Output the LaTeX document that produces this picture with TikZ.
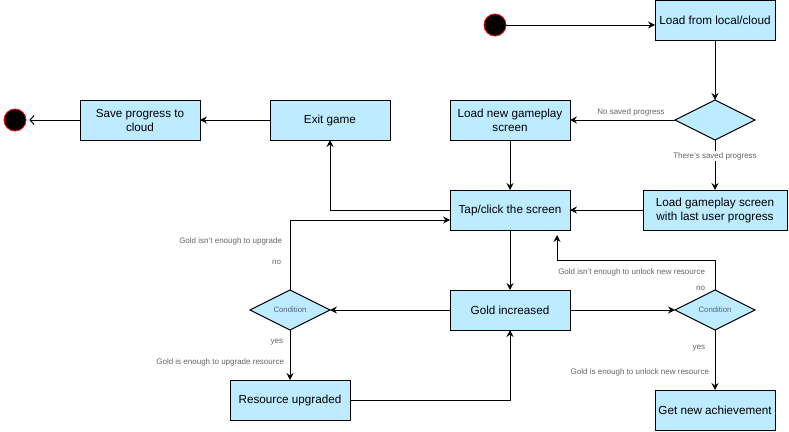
\documentclass[tikz,border=0pt]{standalone}
\usepackage{fontspec}
\setmainfont{Liberation Sans}
\usetikzlibrary{shapes.geometric,arrows.meta}
\definecolor{boxfill}{RGB}{189,235,255}
\definecolor{lblgray}{RGB}{100,100,100}
\definecolor{condtext}{RGB}{85,100,115}
\begin{document}
	\begin{tikzpicture}[x=1pt,y=-1pt,
			box/.style={draw,fill=boxfill,line width=1pt,minimum width=120,minimum height=40,inner sep=0pt,outer sep=0pt,align=center,font=\fontsize{11.7}{14}\selectfont},
			cond/.style={diamond,draw,fill=boxfill,line width=1pt,minimum width=80,minimum height=40,inner sep=0pt,outer sep=0pt,text=condtext,font=\fontsize{7.8}{9}\selectfont},
			dot/.style={circle,fill=black,draw=red,line width=.8pt,minimum size=22,inner sep=0pt},
			lbl/.style={text=lblgray,inner sep=1.5pt,font=\fontsize{8}{10}\selectfont},
			flow/.style={line width=1pt,-{Stealth[length=7pt,width=7pt,inset=2.5pt]}}
		]
		\useasboundingbox (0,0) rectangle (789,431);
		\node[dot](start) at(495,25){};
		\node[box](load) at(715,20){Load from local/cloud};
		\node[cond](dec) at(715,120){};
		\node[box](new) at(510,120){Load new gameplay\\screen};
		\node[box,minimum width=144](last) at(715,210){Load gameplay screen\\with last user progress};
		\node[box](tap) at(510,210){Tap/click the screen};
		\node[box](exit) at(330,120){Exit game};
		\node[box](save) at(140,120){Save progress to\\cloud};
		\node[dot](stop) at(15,120){};
		\node[box](gold) at(510,310){Gold increased};
		\node[cond](condA) at(290,310){Condition};
		\node[cond](condB) at(715,310){Condition};
		\node[box](res) at(290,400){Resource upgraded};
		\node[box](ach) at(715,410){Get new achievement};
		\draw[flow] (start) -- (start -| load.west);
		\draw[flow] (load) -- (dec);
		\draw[flow] (dec) -- node[lbl,above=2pt,pos=.42]{No saved progress} (new);
		\draw[flow] (dec) -- node[lbl,fill=white,pos=.32]{There's saved progress} (last);
		\draw[flow] (new) -- (tap);
		\draw[flow] (last) -- (tap);
		\draw[flow] (tap.west) -| (exit);
		\draw[flow] (exit) -- (save);
		\draw[line width=1pt,-{Straight Barb[length=4pt,width=9pt]},shorten >=3pt] (save) -- (stop);
		\draw[flow] (tap) -- (gold);
		\draw[flow] (gold) -- (condA);
		\draw[flow] (gold) -- (condB);
		\draw[flow] (condA) -- node[lbl,left=5pt,pos=.24]{yes}
			node[lbl,left=4pt,pos=.64]{Gold is enough to upgrade resource} (res);
		\draw[flow] (condA.north) -- node[lbl,left=7pt,pos=.39]{no}
			node[lbl,left=6pt,pos=.69]{Gold isn't enough to upgrade} ++(0,-70) -- ([yshift=-10]tap.west);
		\draw[flow] (res) -| (gold);
		\draw[flow] (condB) -- node[lbl,left=8pt,pos=.3]{yes}
			node[lbl,left=4pt,pos=.7]{Gold is enough to unlock new resource} (ach);
		\draw[flow] (condB.north) -- node[lbl,left=8pt,pos=.07]{no}
			node[lbl,left=8pt,pos=.6]{Gold isn't enough to unlock new resource} ++(0,-30) -| ([xshift=47,yshift=-5]tap.south);
	\end{tikzpicture}
\end{document}
